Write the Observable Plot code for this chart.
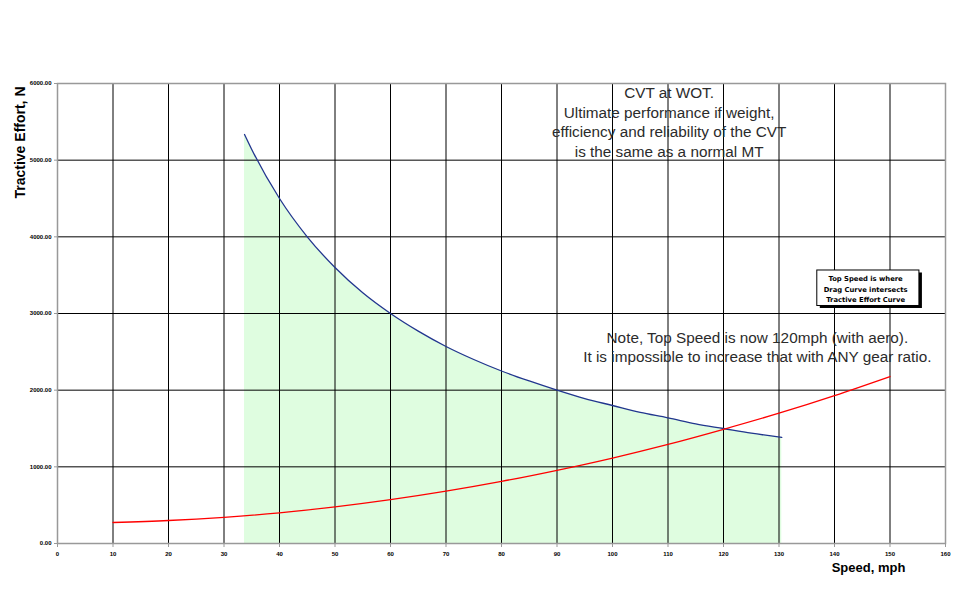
<!DOCTYPE html>
<html>
<head>
<meta charset="utf-8">
<script src="https://cdn.jsdelivr.net/npm/d3@7"></script>
<script src="https://cdn.jsdelivr.net/npm/@observablehq/plot@0.6"></script>
<style>
  html, body { margin: 0; padding: 0; background: #fff; }
  #chart svg { display: block; }
</style>
</head>
<body>
<div id="chart"></div>
<script>
// Tractive effort at WOT with CVT (blue curve, N)
const teSpeed = [33.7, 35, 40, 45, 50, 55, 60, 65, 70, 75, 80, 85, 90, 95, 100, 105, 110, 115, 120, 125, 130.5];
const teForce = [5335, 5140, 4500, 4000, 3600, 3270, 3000, 2770, 2570, 2400, 2250, 2120, 2000, 1890, 1800, 1710, 1640, 1560, 1500, 1440, 1383];

// Drag (red curve, N)
const dragSpeed = [10, 20, 30, 40, 50, 60, 70, 80, 90, 100, 110, 120, 130, 140, 150];
const dragForce = [274, 300, 342, 400, 478, 572, 683, 810, 955, 1115, 1293, 1490, 1700, 1930, 2178];

// Tick labels
const xTicks = [0, 10, 20, 30, 40, 50, 60, 70, 80, 90, 100, 110, 120, 130, 140, 150, 160];
const yTicks = [0, 1000, 2000, 3000, 4000, 5000, 6000];
const xGrid = xTicks.slice(1, -1);
const yGrid = yTicks.slice(1, -1);

// Annotations (anchor in data units)
const noteCVT = {x: 110.2, y: 5510, text: "CVT at WOT.\nUltimate performance if weight,\nefficiency and reliability of the CVT\nis the same as a normal MT"};
const noteTop = {x: 126.1, y: 2576, text: "Note, Top Speed is now 120mph (with aero).\nIt is impossible to increase that with ANY gear ratio."};
const boxNote = {x1: 136.9, x2: 155.3, y1: 3561, y2: 3098, tx: 145.6, ty: 3330,
  text: "Top Speed is where\nDrag Curve intersects\nTractive Effort Curve"};

const te = teSpeed.map((s, i) => ({speed: s, force: teForce[i]}));
const drag = dragSpeed.map((s, i) => ({speed: s, force: dragForce[i]}));

const tickFont = {fontSize: 6, fontWeight: "bold", fontFamily: "Liberation Sans, Arial, sans-serif"};

const chart = Plot.plot({
  width: 975,
  height: 599,
  marginLeft: 57,
  marginRight: 30,
  marginTop: 83,
  marginBottom: 56,
  style: {fontFamily: "Liberation Sans, Arial, sans-serif", background: "#fff", color: "#000"},
  x: {type: "linear", domain: [0, 160], axis: null},
  y: {type: "linear", domain: [0, 6000], axis: null},
  marks: [
    Plot.areaY(te, {x: "speed", y: "force", fill: "#dffde0", curve: "monotone-x"}),
    Plot.ruleX(xGrid, {stroke: "#000", strokeWidth: 1}),
    Plot.ruleY(yGrid, {stroke: "#000", strokeWidth: 1}),
    Plot.frame({stroke: "#999", strokeWidth: 1.5}),
    Plot.axisX({ticks: xTicks, tickSize: 4, stroke: "#999", tickPadding: 4, tickFormat: d => String(d), ...tickFont, fill: "#000"}),
    Plot.axisY({ticks: yTicks, tickSize: 3, stroke: "#999", tickPadding: 3, tickFormat: d => d.toFixed(2), ...tickFont, fill: "#000"}),
    Plot.line(te, {x: "speed", y: "force", stroke: "#22368f", strokeWidth: 1.3, curve: "monotone-x"}),
    Plot.line(drag, {x: "speed", y: "force", stroke: "#ff0000", strokeWidth: 1.3, curve: "monotone-x"}),
    Plot.text([noteCVT], {x: "x", y: "y", text: "text", fontSize: 15.3, lineHeight: 1.29, fill: "#2b2b2b", textAnchor: "middle", lineAnchor: "middle"}),
    Plot.text([noteTop], {x: "x", y: "y", text: "text", fontSize: 15.3, lineHeight: 1.27, fill: "#2b2b2b", textAnchor: "middle", lineAnchor: "middle"}),
    Plot.rect([boxNote], {x1: "x1", x2: "x2", y1: "y1", y2: "y2", fill: "#000", dx: 3, dy: 2.5}),
    Plot.rect([boxNote], {x1: "x1", x2: "x2", y1: "y1", y2: "y2", fill: "#fff", stroke: "#000", strokeWidth: 1}),
    Plot.text([boxNote], {x: "tx", y: "ty", text: "text", fontSize: 6.8, fontWeight: "bold", fontFamily: "DejaVu Sans, sans-serif", lineHeight: 1.57, fill: "#000", textAnchor: "middle", lineAnchor: "middle"}),
    Plot.text(["Tractive Effort, N"], {frameAnchor: "top-left", dx: -42, dy: 59, rotate: -90, fontSize: 14, fontWeight: "bold", fill: "#000", textAnchor: "middle"}),
    Plot.text(["Speed, mph"], {frameAnchor: "bottom-right", dx: -77, dy: 28, fontSize: 13, fontWeight: "bold", fill: "#000", textAnchor: "middle"})
  ]
});
document.getElementById("chart").appendChild(chart);
</script>
</body>
</html>
